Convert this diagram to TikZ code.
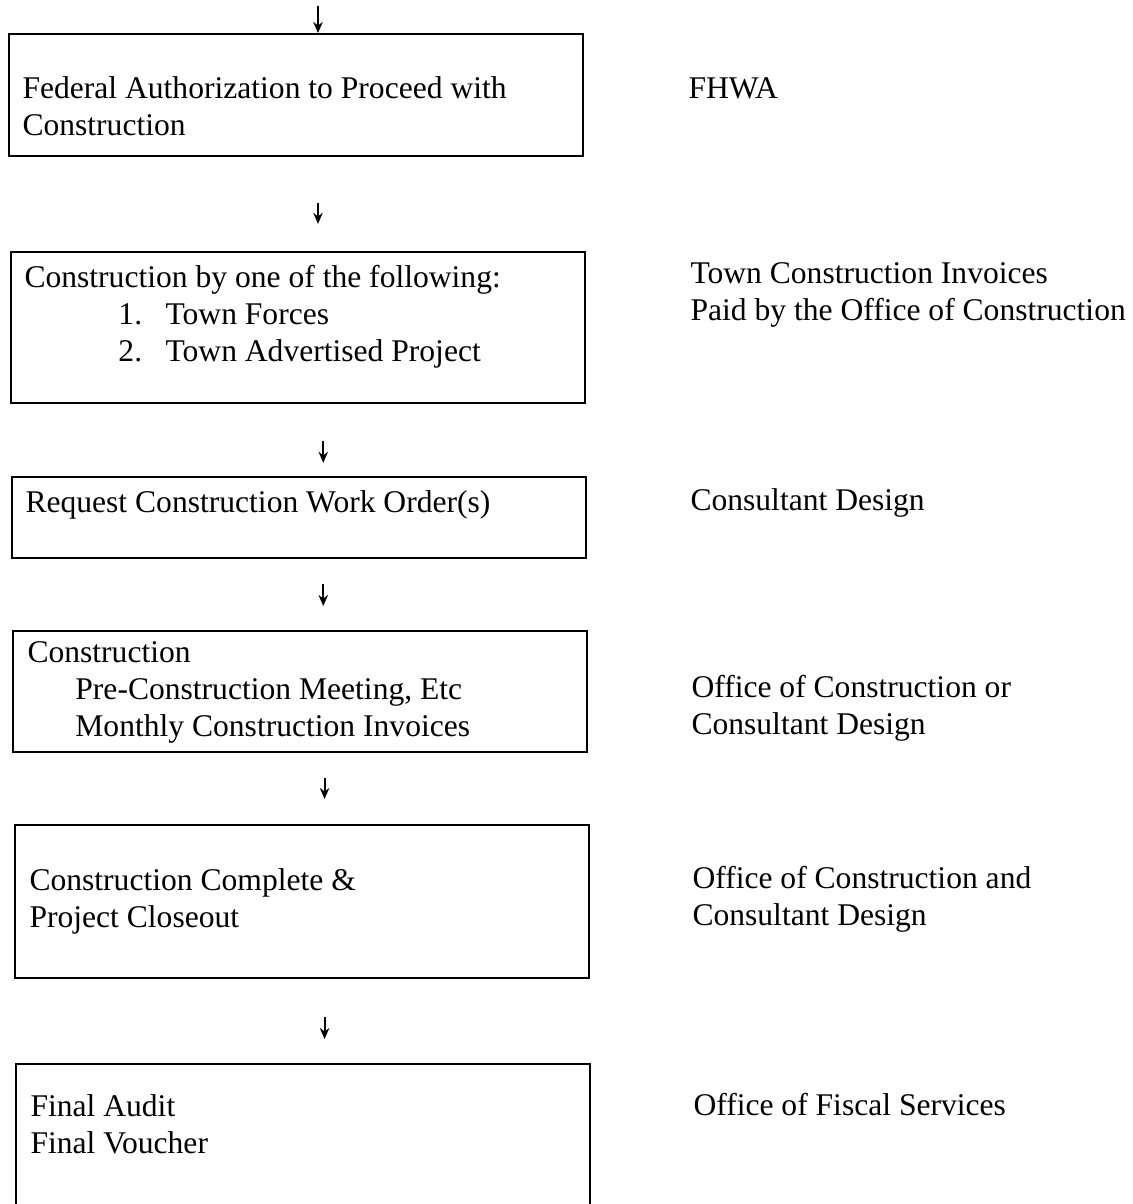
\documentclass[tikz,border=0pt]{standalone}
\usepackage{fontspec}
\setmainfont{Liberation Serif}
\usepackage{tikz}
\usetikzlibrary{arrows.meta}

\begin{document}
\begin{tikzpicture}[x=0.38pt, y=-0.38pt]
\tikzstyle{stage}=[draw, line width=0.8pt, anchor=north west, minimum width=218pt, inner sep=0pt]
\tikzstyle{txt}=[anchor=base west, align=left, inner sep=0pt, font=\fontsize{12}{13.9}\selectfont]
\tikzstyle{flow}=[line width=0.75pt, -{Stealth[length=4.2pt, width=3.6pt]}]
\useasboundingbox (0,0) rectangle (1133,1204);

% boxes
\node[stage, minimum height=46.4pt] (V1) at (8,33) {};
\node[stage, minimum height=57.4pt] (V2) at (10,251) {};
\node[stage, minimum height=30.8pt] (V3) at (11,476) {};
\node[stage, minimum height=46pt] (V4) at (12,630) {};
\node[stage, minimum height=58.1pt] (V5) at (14,824) {};
\node[stage, minimum height=80pt] (V6) at (15,1063) {};

% box texts (anchored at the last line)
\node[txt] (T1) at (22,135) {Federal Authorization to Proceed with\\Construction};
\node[txt] (T2) at (24,361) {Construction by one of the following:\\
  \hspace{35.7pt}\makebox[17.9pt][l]{1.}Town Forces\\
  \hspace{35.7pt}\makebox[17.9pt][l]{2.}Town Advertised Project};
\node[txt] (T3) at (25,512) {Request Construction Work Order(s)};
\node[txt] (T4) at (27,736) {Construction\\
  \hspace{18.2pt}Pre-Construction Meeting, Etc\\
  \hspace{18.2pt}Monthly Construction Invoices};
\node[txt] (T5) at (29,927) {Construction Complete \&\\Project Closeout};
\node[txt] (T6) at (30,1153) {Final Audit\\Final Voucher};

% who does it
\node[txt] (R1) at (688,98) {FHWA};
\node[txt] (R2) at (690,320) {Town Construction Invoices\\Paid by the Office of Construction};
\node[txt] (R3) at (690,510) {Consultant Design};
\node[txt] (R4) at (691,734) {Office of Construction or\\Consultant Design};
\node[txt] (R5) at (692,925) {Office of Construction and\\Consultant Design};
\node[txt] (R6) at (693,1115) {Office of Fiscal Services};

% arrows
\coordinate (S) at (318,6);
\draw[flow] (S) -- (V1.north -| S);
\draw[flow, shorten <=17.5pt, shorten >=10.3pt] (V1.south -| S) -- (V2.north -| S);
\draw[flow, shorten <=14pt, shorten >=5pt] ([xshift=2pt]V2.south -| S) -- ([xshift=2pt]V3.north -| S);
\draw[flow, shorten <=9.5pt, shorten >=9.1pt] ([xshift=2pt]V3.south -| S) -- ([xshift=2pt]V4.north -| S);
\draw[flow, shorten <=9.5pt, shorten >=9.5pt] ([xshift=2.5pt]V4.south -| S) -- ([xshift=2.5pt]V5.north -| S);
\draw[flow, shorten <=14.4pt, shorten >=9.1pt] ([xshift=2.5pt]V5.south -| S) -- ([xshift=2.5pt]V6.north -| S);
\end{tikzpicture}
\end{document}
